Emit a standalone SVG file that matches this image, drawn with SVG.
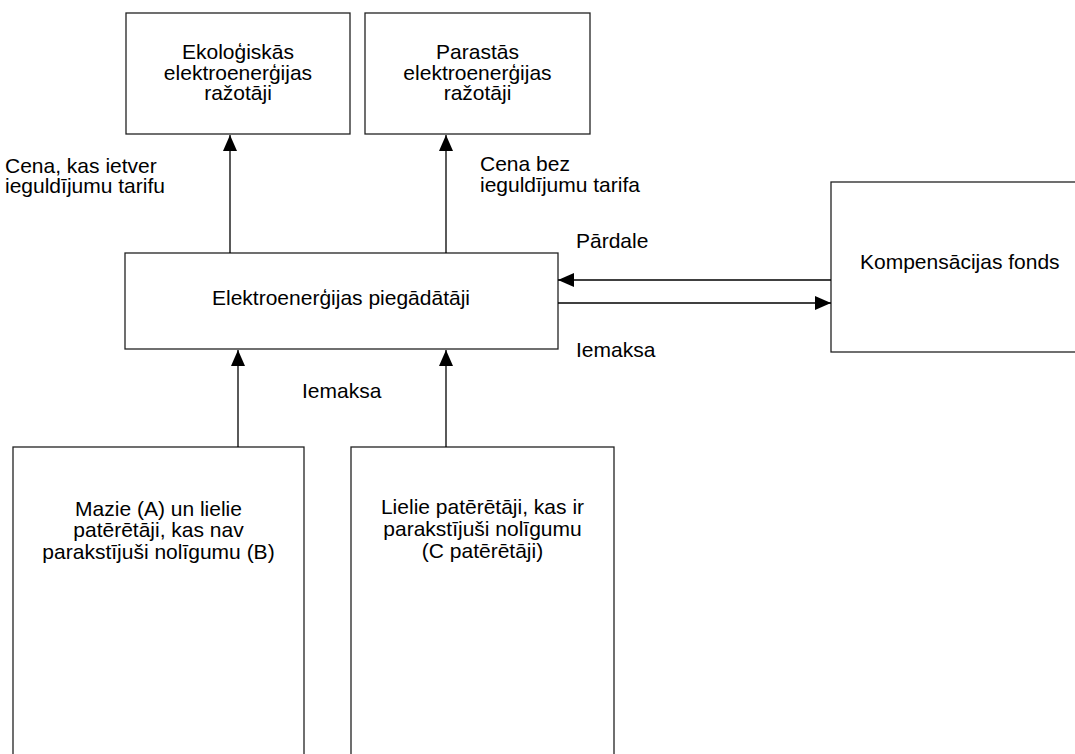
<svg xmlns="http://www.w3.org/2000/svg" width="1075" height="754" viewBox="0 0 1075 754">
<style>
.box{fill:#fff;stroke:#222;stroke-width:1.3}
.t{font-family:"Liberation Sans",Arial,sans-serif;font-size:21px;fill:#000}
.c{text-anchor:middle}
.conn{stroke:#000;stroke-width:1.3;fill:none}
</style>
<defs>
<marker id="ah" markerUnits="userSpaceOnUse" markerWidth="16" markerHeight="14" refX="16" refY="7" orient="auto" viewBox="0 0 16 14">
<path d="M0,0 L16,7 L0,14 z" fill="#000"/>
</marker>
</defs>
<rect width="1075" height="754" fill="#fff"/>
<g id="eco">
<rect class="box" x="126" y="13" width="224" height="121"/>
<text class="t c" x="238" y="59">Ekoloģiskās</text>
<text class="t c" x="238" y="80">elektroenerģijas</text>
<text class="t c" x="238" y="100">ražotāji</text>
</g>
<g id="parast">
<rect class="box" x="365" y="13" width="225" height="121"/>
<text class="t c" x="477.5" y="59">Parastās</text>
<text class="t c" x="477.5" y="80">elektroenerģijas</text>
<text class="t c" x="477.5" y="100">ražotāji</text>
</g>
<g id="supplier">
<rect class="box" x="125" y="253" width="433" height="96"/>
<text class="t c" x="341" y="305">Elektroenerģijas piegādātāji</text>
</g>
<g id="fund">
<rect class="box" x="831" y="182" width="250" height="170"/>
<text class="t" x="860" y="269">Kompensācijas fonds</text>
</g>
<g id="consA">
<rect class="box" x="13" y="447" width="291" height="320"/>
<text class="t c" x="158.5" y="516">Mazie (A) un lielie</text>
<text class="t c" x="158.5" y="537">patērētāji, kas nav</text>
<text class="t c" x="158.5" y="559">parakstījuši nolīgumu (B)</text>
</g>
<g id="consC">
<rect class="box" x="351" y="447" width="263" height="320"/>
<text class="t c" x="482.5" y="514">Lielie patērētāji, kas ir</text>
<text class="t c" x="482.5" y="536">parakstījuši nolīgumu</text>
<text class="t c" x="482.5" y="558">(C patērētāji)</text>
</g>
<g id="connectors">
<line class="conn" x1="230" y1="253" x2="230" y2="135" marker-end="url(#ah)"/>
<line class="conn" x1="446" y1="253" x2="446" y2="135" marker-end="url(#ah)"/>
<line class="conn" x1="238" y1="447" x2="238" y2="350" marker-end="url(#ah)"/>
<line class="conn" x1="446" y1="447" x2="446" y2="350" marker-end="url(#ah)"/>
<line class="conn" x1="831" y1="280" x2="558" y2="280" marker-end="url(#ah)"/>
<line class="conn" x1="558" y1="303" x2="831" y2="303" marker-end="url(#ah)"/>
<text class="t" x="5" y="173">Cena, kas ietver</text>
<text class="t" x="5" y="193">ieguldījumu tarifu</text>
<text class="t" x="480" y="171">Cena bez</text>
<text class="t" x="480" y="192">ieguldījumu tarifa</text>
<text class="t" x="576" y="248">Pārdale</text>
<text class="t" x="576" y="357">Iemaksa</text>
<text class="t" x="302" y="398">Iemaksa</text>
</g>
</svg>
